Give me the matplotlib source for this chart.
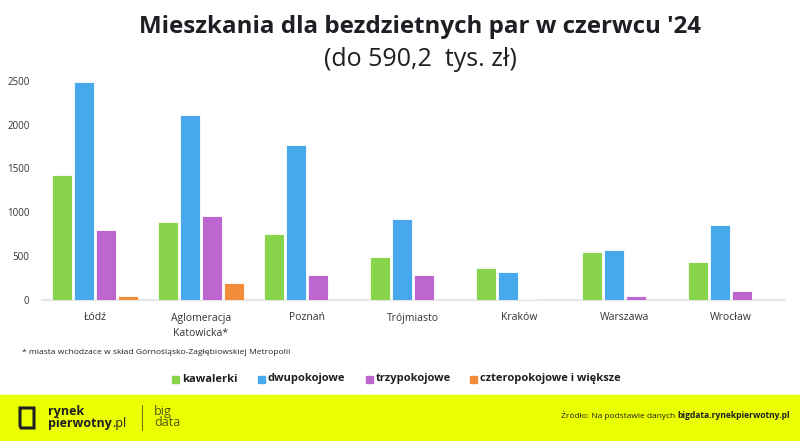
import matplotlib.pyplot as plt
import numpy as np
from matplotlib.patches import Rectangle, Polygon

miasta = ['Łódź', 'Aglomeracja\nKatowicka*', 'Poznań', 'Trójmiasto', 'Kraków', 'Warszawa', 'Wrocław']
kawalerki = [1420, 885, 750, 490, 360, 547, 437]
dwupokojowe = [2490, 2110, 1765, 927, 323, 570, 851]
trzypokojowe = [798, 961, 287, 289, 12, 42, 99]
czteropokojowe = [50, 190, 0, 0, 0, 0, 3]

serie = ['kawalerki', 'dwupokojowe', 'trzypokojowe', 'czteropokojowe i większe']
kolory = ['#88d54b', '#47a9ec', '#bd66d0', '#f18c3b']

plt.rcParams['font.family'] = ['Open Sans', 'DejaVu Sans']

fig = plt.figure(figsize=(8, 4.41), dpi=100)
fig.patch.set_facecolor('white')

ax = fig.add_axes([42 / 800, 1 - 300 / 441, 742 / 800, (300 - 80.7) / 441])
x = np.arange(len(miasta))
w = 0.18
step = 0.2075
dane = [kawalerki, dwupokojowe, trzypokojowe, czteropokojowe]
for i, (vals, c) in enumerate(zip(dane, kolory)):
    ax.bar(x + (i - 1.5) * step, vals, width=w, color=c, edgecolor='white', linewidth=0.6, zorder=3)

ax.set_xlim(-0.5, len(miasta) - 0.5)
ax.set_ylim(0, 2500)
ax.set_yticks([0, 500, 1000, 1500, 2000, 2500])
ax.tick_params(axis='y', length=0, labelsize=7, labelcolor='#333333', pad=9)
ax.set_xticks(x)
ax.set_xticklabels(miasta, fontsize=7.5, color='#333333', linespacing=1.5, va='top')
ax.tick_params(axis='x', length=0, pad=9)
for s in ['top', 'right', 'left']:
    ax.spines[s].set_visible(False)
ax.spines['bottom'].set_color('#e6e6e6')
ax.spines['bottom'].set_linewidth(1.6)
ax.spines['bottom'].set_zorder(2)

# tytuł
fig.text(420 / 800, 1 - 27 / 441, "Mieszkania dla bezdzietnych par w czerwcu '24", ha='center', va='center',
         fontsize=17.4, fontweight='bold', color='#1e1e24')
fig.text(420 / 800, 1 - 60 / 441, '(do 590,2  tys. zł)', ha='center', va='center',
         fontsize=18, fontweight='normal', color='#1e1e24')

# przypis
fig.text(22 / 800, 1 - 353 / 441, '* miasta wchodzace w skład Górnośląsko-Zagłębiowskiej Metropolii',
         ha='left', va='center', fontsize=6.1, color='#222222')

# legenda
leg_x = [172, 258, 366, 470]
for lx, lab, c in zip(leg_x, serie, kolory):
    fig.patches.append(Rectangle((lx / 800, 1 - 383 / 441), 7 / 800, 7 / 441,
                                 transform=fig.transFigure, color=c, figure=fig))
    fig.text((lx + 10) / 800, 1 - 379 / 441, lab, ha='left', va='center',
             fontsize=8, fontweight='bold', color='#1e1e24')

# stopka
fig.patches.append(Rectangle((0, 0), 1, 46 / 441, transform=fig.transFigure,
                             color='#eaff00', figure=fig, zorder=0))
fig.patches.append(Polygon([(20 / 800, 1 - 408 / 441), (34 / 800, 1 - 408 / 441), (34 / 800, 1 - 428 / 441),
                            (21 / 800, 1 - 428 / 441), (20 / 800, 1 - 426 / 441)], closed=True,
                           transform=fig.transFigure, fill=False, edgecolor='#1e1e24', linewidth=2.2, figure=fig))
fig.text(48 / 800, 1 - 411 / 441, 'rynek', ha='left', va='center', fontsize=9, fontweight='bold', color='#1e1e24')
t_pw = fig.text(48 / 800, 1 - 424 / 441, 'pierwotny', ha='left', va='center', fontsize=9,
                fontweight='bold', color='#1e1e24')
fig.lines.append(plt.Line2D([142 / 800, 142 / 800], [1 - 405 / 441, 1 - 430 / 441],
                            transform=fig.transFigure, color='#555500', linewidth=0.6))
fig.text(154 / 800, 1 - 411 / 441, 'big', ha='left', va='center', fontsize=9, color='#55550a')
fig.text(154 / 800, 1 - 423 / 441, 'data', ha='left', va='center', fontsize=9, color='#55550a')

t_src = fig.text(790 / 800, 1 - 416 / 441, 'bigdata.rynekpierwotny.pl', ha='right', va='center',
                 fontsize=6.1, fontweight='bold', color='#1e1e24')

# dopasowanie sąsiednich napisów
fig.canvas.draw()
r = fig.canvas.get_renderer()
bb = t_src.get_window_extent(r)
fig.text(bb.x0 - 2, bb.y0 + bb.height / 2, 'Źródło: Na podstawie danych', ha='right', va='center',
         fontsize=6.0, color='#1e1e24', transform=None)
bb2 = t_pw.get_window_extent(r)
fig.text(bb2.x1, bb2.y0 + bb2.height / 2, '.pl', ha='left', va='center',
         fontsize=9, color='#1e1e24', transform=None)

fig.savefig('out.png', dpi=100, facecolor='white')
